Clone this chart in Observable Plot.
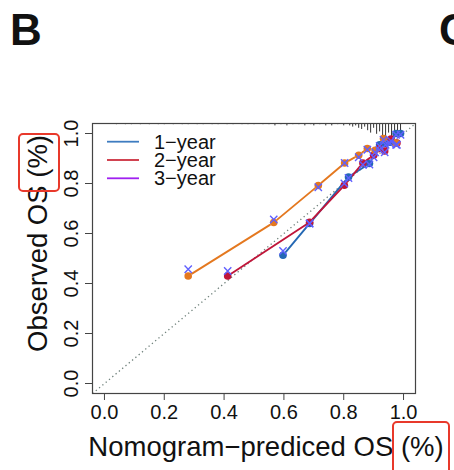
<!DOCTYPE html>
<html>
<head>
<meta charset="utf-8">
<script src="https://cdn.jsdelivr.net/npm/d3@7"></script>
<script src="https://cdn.jsdelivr.net/npm/@observablehq/plot@0.6"></script>
<style>
  html, body { margin: 0; padding: 0; background: #fff; }
  body { width: 454px; height: 470px; position: relative; overflow: hidden; font-family: "Liberation Sans", Arial, Helvetica, sans-serif; }
  #chart { position: absolute; left: 0; top: 0; }
  .panel { position: absolute; font-size: 44px; line-height: 1; font-weight: bold; color: #111; z-index: 2; }
  .hl { position: absolute; box-sizing: border-box; border: 2.5px solid #e8392b; border-radius: 5px; z-index: 3; }
</style>
</head>
<body>
<div class="panel" style="left:10px; top:8px;">B</div>
<div class="panel" style="left:439px; top:8px;">C</div>
<div class="hl" style="left:18px; top:133px; width:42px; height:59px;"></div>
<div class="hl" style="left:392px; top:421px; width:58px; height:60px;"></div>
<div id="chart"></div>
<script>
// ---- data ----
const xTicks = [0, 0.2, 0.4, 0.6, 0.8, 1.0];
const yTicks = [0, 0.2, 0.4, 0.6, 0.8, 1.0];
const axisDomain = [-0.04, 1.04];

const legendLabels = ["1\u2212year", "2\u2212year", "3\u2212year"];
const legendColors = ["#3e7cc0", "#cc2e3e", "#a020f0"];

// 1-year (blue)
const pred1 = [0.597, 0.686, 0.816, 0.886, 0.920, 0.940, 0.955, 0.975, 0.990];
const obs1  = [0.513, 0.640, 0.826, 0.880, 0.955, 0.960, 0.965, 1.000, 1.000];
const bc1   = [0.530, 0.640, 0.822, 0.876, 0.950, 0.955, 0.960, 0.995, 0.995];
// 2-year (red)
const pred2 = [0.412, 0.686, 0.802, 0.864, 0.900, 0.919, 0.937, 0.958, 0.978];
const obs2  = [0.430, 0.645, 0.793, 0.882, 0.913, 0.940, 0.930, 0.978, 0.962];
const bc2   = [0.450, 0.640, 0.800, 0.875, 0.905, 0.935, 0.925, 0.970, 0.955];
// 3-year (orange)
const pred3 = [0.280, 0.566, 0.715, 0.803, 0.850, 0.879, 0.905, 0.933, 0.975];
const obs3  = [0.430, 0.644, 0.792, 0.882, 0.913, 0.940, 0.933, 0.980, 0.962];
const bc3   = [0.457, 0.656, 0.785, 0.882, 0.905, 0.935, 0.925, 0.975, 0.955];

const seriesColors = ["#2468b4", "#c0163a", "#e4781f"];
const crossColor = "#5f5fff";

// distribution of predicted values (top spikes)
const rugX = [0.04,0.07,0.09,0.12,0.15,0.18,0.20,0.23,0.26,0.28,0.31,0.33,0.36,0.38,0.41,0.43,0.46,0.48,0.50,0.53,0.55,0.57,0.59,0.61,0.63,0.65,0.67,0.69,0.70,0.72,0.74,0.76,0.78,0.80,0.82,0.83,0.84,0.85,0.86,0.87,0.88,0.89,0.90,0.91,0.92,0.93,0.94,0.95,0.96,0.97,0.98,0.99];
const rugN = [1,1,1,1,1,1,1,1,1,1,1,1,1,1,1,1,1,1,1,1,1,2,1,2,1,1,2,1,2,1,2,2,1,2,2,3,2,4,5,3,6,8,4,9,7,10,12,8,11,13,9,6];

// ---- build tables ----
const series = [
  {pred: pred1, obs: obs1, bc: bc1, color: seriesColors[0]},
  {pred: pred2, obs: obs2, bc: bc2, color: seriesColors[1]},
  {pred: pred3, obs: obs3, bc: bc3, color: seriesColors[2]}
];
const rug = rugX.map((x, i) => ({x, n: rugN[i]}));
const rugUnit = 0.0048;
const diag = [{x1: axisDomain[0], y1: axisDomain[0], x2: axisDomain[1], y2: axisDomain[1]}];

const font = '"Liberation Sans", Arial, Helvetica, sans-serif';

const marks = [
  Plot.link(diag, {x1: "x1", y1: "y1", x2: "x2", y2: "y2", stroke: "#6f817b", strokeWidth: 1.3, strokeDasharray: "1.3 3"}),
  Plot.ruleX(rug, {x: "x", y1: () => axisDomain[1], y2: d => axisDomain[1] - d.n * rugUnit, stroke: "#333", strokeWidth: 1})
];
// lines (R type "b": gaps around points)
for (const s of series) {
  const pts = s.pred.map((p, i) => ({x: p, y: s.obs[i]}));
  const segs = d3.pairs(pts).map(([a, b]) => ({x1: a.x, y1: a.y, x2: b.x, y2: b.y}));
  marks.push(Plot.arrow(segs, {x1: "x1", y1: "y1", x2: "x2", y2: "y2", headLength: 0, inset: 4.5, stroke: s.color, strokeWidth: 1.9}));
}
for (const s of series) {
  const pts = s.pred.map((p, i) => ({x: p, y: s.obs[i]}));
  marks.push(Plot.dot(pts, {x: "x", y: "y", r: 3.8, fill: s.color, stroke: "none"}));
}
for (const s of series) {
  const pts = s.pred.map((p, i) => ({x: p, y: s.bc[i]}));
  marks.push(Plot.dot(pts, {x: "x", y: "y", symbol: "times", r: 3.4, stroke: crossColor, strokeWidth: 1.4}));
}
marks.push(Plot.frame({stroke: "#444", strokeWidth: 1.2}));
marks.push(Plot.axisX({ticks: xTicks, tickSize: 7, tickPadding: 4, fontSize: 20, tickFormat: d3.format(".1f"), label: null, stroke: "#444"}));
marks.push(Plot.axisY({ticks: yTicks, tickSize: 7, tickPadding: 8, fontSize: 20, tickFormat: d3.format(".1f"), label: null, tickRotate: -90, textAnchor: "middle", lineAnchor: "bottom", stroke: "#444"}));
marks.push(Plot.text(["Nomogram\u2212prediced OS (%)"], {frameAnchor: "bottom", dx: 12, dy: 54, fontSize: 27.5, lineAnchor: "middle", textAnchor: "middle", fill: "#111"}));
marks.push(Plot.text(["Observed OS (%)"], {frameAnchor: "left", dx: -54, dy: -15, rotate: -90, fontSize: 27.5, lineAnchor: "middle", textAnchor: "middle", fill: "#111"}));
// legend inside the plot region
marks.push((index, scales, values, dims) => {
  const g = d3.create("svg:g");
  legendLabels.forEach((lab, i) => {
    const y = dims.marginTop + 18.7 + i * 18.3;
    g.append("line")
      .attr("x1", dims.marginLeft + 15).attr("x2", dims.marginLeft + 47)
      .attr("y1", y).attr("y2", y)
      .attr("stroke", legendColors[i]).attr("stroke-width", 1.8);
    g.append("text")
      .attr("x", dims.marginLeft + 62).attr("y", y).attr("dy", "0.35em")
      .attr("text-anchor", "start")
      .attr("font-size", 20).attr("fill", "#111").text(lab);
  });
  return g.node();
});

const chart = Plot.plot({
  width: 454,
  height: 470,
  marginTop: 123,
  marginBottom: 77,
  marginLeft: 92,
  marginRight: 39,
  x: {domain: axisDomain},
  y: {domain: axisDomain},
  style: {fontFamily: font, fontSize: "20px", background: "transparent", color: "#111"},
  marks
});
document.getElementById("chart").appendChild(chart);
</script>
</body>
</html>
